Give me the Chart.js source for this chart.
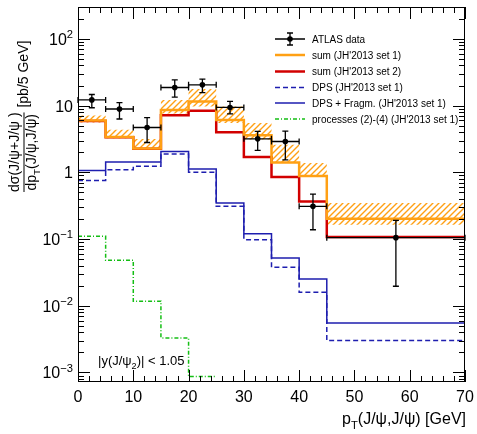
<!DOCTYPE html>
<html><head><meta charset="utf-8">
<script src="https://cdn.jsdelivr.net/npm/chart.js@4.4.0/dist/chart.umd.min.js"></script>
<style>html,body{margin:0;padding:0;background:#fff}#wrap{width:477px;height:434px}</style>
</head><body><div id="wrap"><canvas id="c" width="477" height="434"></canvas></div>
<script>
// ---- data ----
const binEdges = [0,5,10,15,20,25,30,35,40,45,70];
const sumSet1     = [6.0, 3.38, 2.28, 8.6, 11.5, 6.1, 3.6, 1.4, 0.88, 0.202];
const sumSet1Up   = [7.1, 4.35, 3.15, 12.2, 17.7, 9.7, 5.5, 2.6, 1.38, 0.347];
const sumSet1Down = [5.6, 3.25, 2.18, 7.6, 9.7, 5.5, 3.1, 1.38, 0.86, 0.164];
const sumSet2     = [5.9, 3.35, 2.25, 7.2, 8.4, 4.0, 1.7, 0.85, 0.367, 0.107];
const dps         = [0.757, 1.09, 1.23, 1.88, 1.0, 0.31, 0.098, 0.0377, 0.0159, 0.00301];
const dpsFrag     = [1.07, 1.43, 1.43, 2.05, 1.12, 0.347, 0.12, 0.052, 0.0253, 0.00554];
const procEdges   = [0,5,10,15,20,25];
const proc24      = [0.11, 0.048, 0.0117, 0.0033, 0.00087];
const dataX    = [2.5,7.5,12.5,17.5,22.5,27.5,32.5,37.5,42.5,57.5];
const dataXErr = [2.5,2.5,2.5,2.5,2.5,2.5,2.5,2.5,2.5,12.5];
const dataY    = [12.2, 8.9, 4.7, 18.7, 20.5, 9.4, 3.18, 2.9, 0.309, 0.105];
const dataYHi  = [14.7, 11.1, 6.6, 24.4, 25.0, 11.6, 4.1, 4.15, 0.47, 0.19];
const dataYLo  = [9.3, 6.3, 2.8, 13.4, 15.7, 7.5, 2.13, 1.54, 0.138, 0.0196];
const xTickLabels = [0,10,20,30,40,50,60,70];
const yTickExps = [-3,-2,-1,0,1,2];
const legendLabels = ["ATLAS data","sum (JH'2013 set 1)","sum (JH'2013 set 2)","DPS (JH'2013 set 1)","DPS + Fragm. (JH'2013 set 1)","processes (2)-(4) (JH'2013 set 1)"];

// ---- styles ----
const ORANGE = 'rgb(255,160,20)';
const RED = 'rgb(210,0,0)';
const BLUE = 'rgb(30,30,175)';
const GREEN = 'rgb(20,190,20)';
const FONT = '"Liberation Sans", Arial, sans-serif';

function histPoints(edges, vals){
  const pts = vals.map((v,i)=>({x:edges[i], y:v}));
  pts.push({x:edges[edges.length-1], y:vals[vals.length-1]});
  return pts;
}
function makeHatch(){
  const c = document.createElement('canvas'); c.width=6; c.height=6;
  const g = c.getContext('2d');
  g.strokeStyle = ORANGE; g.lineWidth = 1.4;
  g.beginPath();
  g.moveTo(-1,7); g.lineTo(7,-1);
  g.moveTo(-4,4); g.lineTo(4,-4);
  g.moveTo(2,10); g.lineTo(10,2);
  g.stroke();
  return document.getElementById('c').getContext('2d').createPattern(c,'repeat');
}

function segWidth(ctx, segs, size){
  let w=0;
  for(const [t,m] of segs){ ctx.font = (m? size*0.7 : size)+'px '+FONT; w += ctx.measureText(t).width; }
  return w;
}
function drawSegs(ctx, segs, x, y, size){
  for(const [t,m] of segs){
    const s = m? size*0.7 : size;
    ctx.font = s+'px '+FONT;
    const dy = m===1 ? -size*0.42 : (m===-1 ? size*0.3 : 0);
    ctx.fillText(t, x, y+dy);
    x += ctx.measureText(t).width;
  }
  return x;
}

const overlay = {
  id:'overlay',
  afterDatasetsDraw(chart){
    const ctx = chart.ctx, xs = chart.scales.x, ys = chart.scales.y;
    ctx.save();
    ctx.strokeStyle = '#000'; ctx.lineWidth = 1.3;
    for(let i=0;i<dataX.length;i++){
      const px = xs.getPixelForValue(dataX[i]);
      const py = ys.getPixelForValue(dataY[i]);
      const x0 = xs.getPixelForValue(dataX[i]-dataXErr[i]);
      const x1 = xs.getPixelForValue(dataX[i]+dataXErr[i]);
      const yh = ys.getPixelForValue(dataYHi[i]);
      const yl = ys.getPixelForValue(dataYLo[i]);
      ctx.beginPath();
      ctx.moveTo(x0,py); ctx.lineTo(x1,py);
      ctx.moveTo(px,yh); ctx.lineTo(px,yl);
      ctx.moveTo(px-3,yh); ctx.lineTo(px+3,yh);
      ctx.moveTo(px-3,yl); ctx.lineTo(px+3,yl);
      ctx.moveTo(x0,py-3); ctx.lineTo(x0,py+3);
      ctx.moveTo(x1,py-3); ctx.lineTo(x1,py+3);
      ctx.stroke();
      ctx.fillStyle='#000';
      ctx.beginPath(); ctx.arc(px,py,2.8,0,Math.PI*2); ctx.fill();
    }
    ctx.restore();
  },
  afterDraw(chart){
    const ctx = chart.ctx, xs = chart.scales.x, ys = chart.scales.y, a = chart.chartArea;
    ctx.save();
    ctx.strokeStyle='#000'; ctx.lineWidth=1;
    ctx.strokeRect(Math.round(a.left)+0.5, Math.round(a.top)+0.5, Math.round(a.right-a.left)-1, Math.round(a.bottom-a.top)-1);
    ctx.beginPath();
    for(let v=0; v<=70; v+=2){
      const p = Math.round(xs.getPixelForValue(v))+0.5;
      const len = v%10===0 ? 12 : 6;
      ctx.moveTo(p, a.bottom); ctx.lineTo(p, a.bottom-len);
      ctx.moveTo(p, a.top); ctx.lineTo(p, a.top+len);
    }
    for(let d=-4; d<=2; d++){
      for(let m=1; m<=9; m++){
        const v = m*Math.pow(10,d);
        if(v<ys.min || v>ys.max) continue;
        const p = Math.round(ys.getPixelForValue(v))+0.5;
        const len = m===1 ? 12 : 6;
        ctx.moveTo(a.left, p); ctx.lineTo(a.left+len, p);
        ctx.moveTo(a.right, p); ctx.lineTo(a.right-len, p);
      }
    }
    ctx.stroke();
    ctx.fillStyle='#000';
    ctx.font = '16px '+FONT; ctx.textAlign='center'; ctx.textBaseline='alphabetic';
    for(const v of xTickLabels){
      ctx.fillText(String(v), xs.getPixelForValue(v), 402);
    }
    ctx.textAlign='left';
    for(const e of yTickExps){
      const py = ys.getPixelForValue(Math.pow(10,e));
      let segs;
      if(e===0) segs=[['1',0]]; else if(e===1) segs=[['10',0]]; else segs=[['10',0],[String(e).replace('-','\u2212'),1]];
      const w = segWidth(ctx, segs, 16);
      drawSegs(ctx, segs, 73-w, py+6, 16);
    }
    const xt = [['p',0],['T',-1],['(J/\u03c8,J/\u03c8) [GeV]',0]];
    const xw = segWidth(ctx, xt, 16);
    drawSegs(ctx, xt, 466-xw, 424, 16);
    ctx.save();
    ctx.rotate(-Math.PI/2);
    const num = [['d\u03c3(J/\u03c8+J/\u03c8 )',0]];
    const den = [['dp',0],['T',-1],['(J/\u03c8,J/\u03c8)',0]];
    const fs = 14;
    const nw = segWidth(ctx, num, fs), dw = segWidth(ctx, den, fs);
    const fw = Math.max(nw,dw);
    const fracStart = -192;
    drawSegs(ctx, num, fracStart + (fw-nw)/2, 19, fs);
    drawSegs(ctx, den, fracStart + (fw-dw)/2, 36, fs);
    ctx.fillRect(fracStart, 23.5, fw, 1);
    drawSegs(ctx, [[' [pb/5 GeV]',0]], fracStart+fw+1, 28, fs);
    ctx.restore();
    drawSegs(ctx, [['|y(J/\u03c8',0],['2',-1],[')| < 1.05',0]], 98, 365, 13);
    const lx0=275, lx1=305, tx=312;
    const rows=[39,55,71.5,87.5,103,119];
    const styles=[null,[ORANGE,2.5,[]],[RED,2.5,[]],[BLUE,1.5,[5,3]],[BLUE,1.5,[]],[GREEN,1.5,[4,2,1,2]]];
    rows.forEach((ry,i)=>{
      if(i===0){
        ctx.strokeStyle='#000'; ctx.lineWidth=1.3; ctx.setLineDash([]);
        ctx.beginPath();
        ctx.moveTo(lx0,ry); ctx.lineTo(lx1,ry);
        ctx.moveTo(290,ry-6); ctx.lineTo(290,ry+6);
        ctx.moveTo(287,ry-6); ctx.lineTo(293,ry-6);
        ctx.moveTo(287,ry+6); ctx.lineTo(293,ry+6);
        ctx.stroke();
        ctx.beginPath(); ctx.arc(290,ry,2.8,0,Math.PI*2); ctx.fill();
      } else {
        const [c,w,d]=styles[i];
        ctx.strokeStyle=c; ctx.lineWidth=w; ctx.setLineDash(d);
        ctx.beginPath(); ctx.moveTo(lx0,ry); ctx.lineTo(lx1,ry); ctx.stroke();
        ctx.setLineDash([]);
      }
      ctx.fillStyle='#000'; ctx.font='10px '+FONT;
      ctx.fillText(legendLabels[i], tx, ry+3.5);
    });
    ctx.restore();
  }
};

const hatch = makeHatch();
const common = {pointRadius:0, stepped:'before', fill:false, tension:0};
new Chart(document.getElementById('c'), {
  type:'line',
  data:{datasets:[
    Object.assign({}, common, {label:'band up', data:histPoints(binEdges,sumSet1Up), borderWidth:0, borderColor:'rgba(0,0,0,0)', order:9}),
    Object.assign({}, common, {label:'band down', data:histPoints(binEdges,sumSet1Down), borderWidth:0, borderColor:'rgba(0,0,0,0)', fill:'-1', backgroundColor:hatch, order:8}),
    Object.assign({}, common, {label:legendLabels[5], data:histPoints(procEdges,proc24), borderColor:GREEN, borderWidth:1.5, borderDash:[4,2,1,2], order:7}),
    Object.assign({}, common, {label:legendLabels[3], data:histPoints(binEdges,dps), borderColor:BLUE, borderWidth:1.5, borderDash:[5,3], order:6}),
    Object.assign({}, common, {label:legendLabels[4], data:histPoints(binEdges,dpsFrag), borderColor:BLUE, borderWidth:1.5, order:5}),
    Object.assign({}, common, {label:legendLabels[2], data:histPoints(binEdges,sumSet2), borderColor:RED, borderWidth:2.5, order:4}),
    Object.assign({}, common, {label:legendLabels[1], data:histPoints(binEdges,sumSet1), borderColor:ORANGE, borderWidth:2.5, order:3}),
    {type:'scatter', label:legendLabels[0], data:dataX.map((x,i)=>({x:x,y:dataY[i]})), pointRadius:0, showLine:false, order:1}
  ]},
  options:{
    responsive:false, animation:false, devicePixelRatio:1,
    layout:{padding:{top:7,right:12,left:0,bottom:0}},
    plugins:{legend:{display:false}, tooltip:{enabled:false}},
    scales:{
      x:{type:'linear', min:0, max:70, grid:{display:false}, border:{display:false}, ticks:{display:false}, afterFit(s){s.height=52;}},
      y:{type:'logarithmic', min:7.2e-4, max:301, grid:{display:false}, border:{display:false}, ticks:{display:false}, afterFit(s){s.width=78;}}
    }
  },
  plugins:[overlay]
});
</script></body></html>
